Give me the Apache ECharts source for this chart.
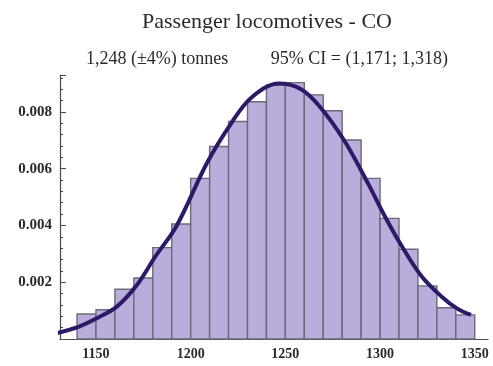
<!DOCTYPE html>
<html>
<head>
<meta charset="utf-8">
<script src="https://cdn.jsdelivr.net/npm/echarts@6/dist/echarts.min.js"></script>
<style>
  html, body { margin: 0; padding: 0; background: #ffffff; }
  #chart { width: 493px; height: 366px; }
</style>
</head>
<body>
<div id="chart"></div>
<script>
// Histogram bins (left edge, tonnes) and their probability densities
const binStarts = [1140, 1150, 1160, 1170, 1180, 1190, 1200, 1210, 1220, 1230, 1240,
                   1250, 1260, 1270, 1280, 1290, 1300, 1310, 1320, 1330, 1340];
const densities = [0.00088, 0.00103, 0.00175, 0.00215, 0.00322, 0.00405, 0.00566,
                   0.00678, 0.00766, 0.00836, 0.00895, 0.00903, 0.00860, 0.00804,
                   0.00701, 0.00566, 0.00425, 0.00316, 0.00187, 0.00110, 0.00085];
const BIN_WIDTH = 10;

// Fitted density curve, sampled along the x range
const curveX = [1125.7, 1140.7, 1150.4, 1161, 1171.6, 1181.3, 1192.7, 1208.6,
                1221.4, 1232, 1246.5, 1258.3, 1268, 1281, 1293.5, 1302.3, 1311.2,
                1321.8, 1332.4, 1341, 1348];
const curveY = [0.00014, 0.00043, 0.00073, 0.00114, 0.00190, 0.00290, 0.00400,
                0.00620, 0.00760, 0.00850, 0.00900, 0.00880, 0.00820, 0.00700, 0.00550,
                0.00435, 0.00330, 0.00222, 0.00150, 0.00106, 0.00085];

// Axis labels
const xTicks = [1150, 1200, 1250, 1300, 1350];
const yTicks = [0.002, 0.004, 0.006, 0.008];

const titleText = 'Passenger locomotives - CO';
const estimateText = '1,248 (\u00b14%) tonnes';
const ciText = '95% CI = (1,171; 1,318)';

const chart = echarts.init(document.getElementById('chart'), null, { renderer: 'canvas' });

const serif = '"Liberation Serif", "Times New Roman", serif';
const textColor = '#2b2b2b';
const axisColor = '#4a4a4a';

const histData = binStarts.map((s, i) => [s, s + BIN_WIDTH, densities[i]]);
const curveData = curveX.map((x, i) => [x, curveY[i]]);

const option = {
  animation: false,
  backgroundColor: '#ffffff',
  graphic: [
    {
      type: 'text', x: 267, y: 22,
      style: { text: titleText, font: '22px ' + serif, fill: textColor, align: 'center', verticalAlign: 'middle' }
    },
    {
      type: 'text', x: 86, y: 59,
      style: { text: estimateText, font: '18px ' + serif, fill: textColor, align: 'left', verticalAlign: 'middle' }
    },
    {
      type: 'text', x: 448, y: 59,
      style: { text: ciText, font: '18px ' + serif, fill: textColor, align: 'right', verticalAlign: 'middle' }
    }
  ],
  grid: { left: 60, right: 5, top: 75, bottom: 27, containLabel: false, outerBoundsMode: 'none' },
  xAxis: {
    type: 'value',
    min: 1131,
    max: 1357,
    splitLine: { show: false },
    axisLine: { show: true, lineStyle: { color: axisColor, width: 1.2 } },
    axisTick: { show: false },
    axisLabel: {
      customValues: xTicks,
      margin: 8,
      fontFamily: serif,
      fontSize: 14,
      fontWeight: 'bold',
      color: textColor,
      formatter: v => String(v)
    }
  },
  yAxis: {
    type: 'value',
    min: 0,
    max: 0.0093,
    interval: 0.002,
    splitLine: { show: false },
    axisLine: { show: true, lineStyle: { color: axisColor, width: 1.2 } },
    axisTick: { show: true, inside: true, length: 6, lineStyle: { color: axisColor } },
    minorTick: { show: true, splitNumber: 5, length: 3, lineStyle: { color: axisColor } },
    axisLabel: {
      customValues: yTicks,
      margin: 8,
      fontFamily: serif,
      fontSize: 15,
      fontWeight: 'bold',
      color: textColor,
      formatter: v => v.toFixed(3)
    }
  },
  series: [
    {
      type: 'custom',
      data: histData,
      encode: { x: [0, 1], y: 2 },
      z: 2,
      renderItem: (params, api) => {
        const p0 = api.coord([api.value(0), api.value(2)]);
        const p1 = api.coord([api.value(1), 0]);
        return {
          type: 'rect',
          shape: { x: p0[0], y: p0[1], width: p1[0] - p0[0], height: p1[1] - p0[1] },
          style: { fill: '#b9addb', stroke: '#6e6878', lineWidth: 1.4 }
        };
      }
    },
    {
      type: 'line',
      data: curveData,
      smooth: 0.35,
      showSymbol: false,
      clip: false,
      z: 3,
      lineStyle: { color: '#2c1a68', width: 4 }
    }
  ]
};

chart.setOption(option);
</script>
</body>
</html>
